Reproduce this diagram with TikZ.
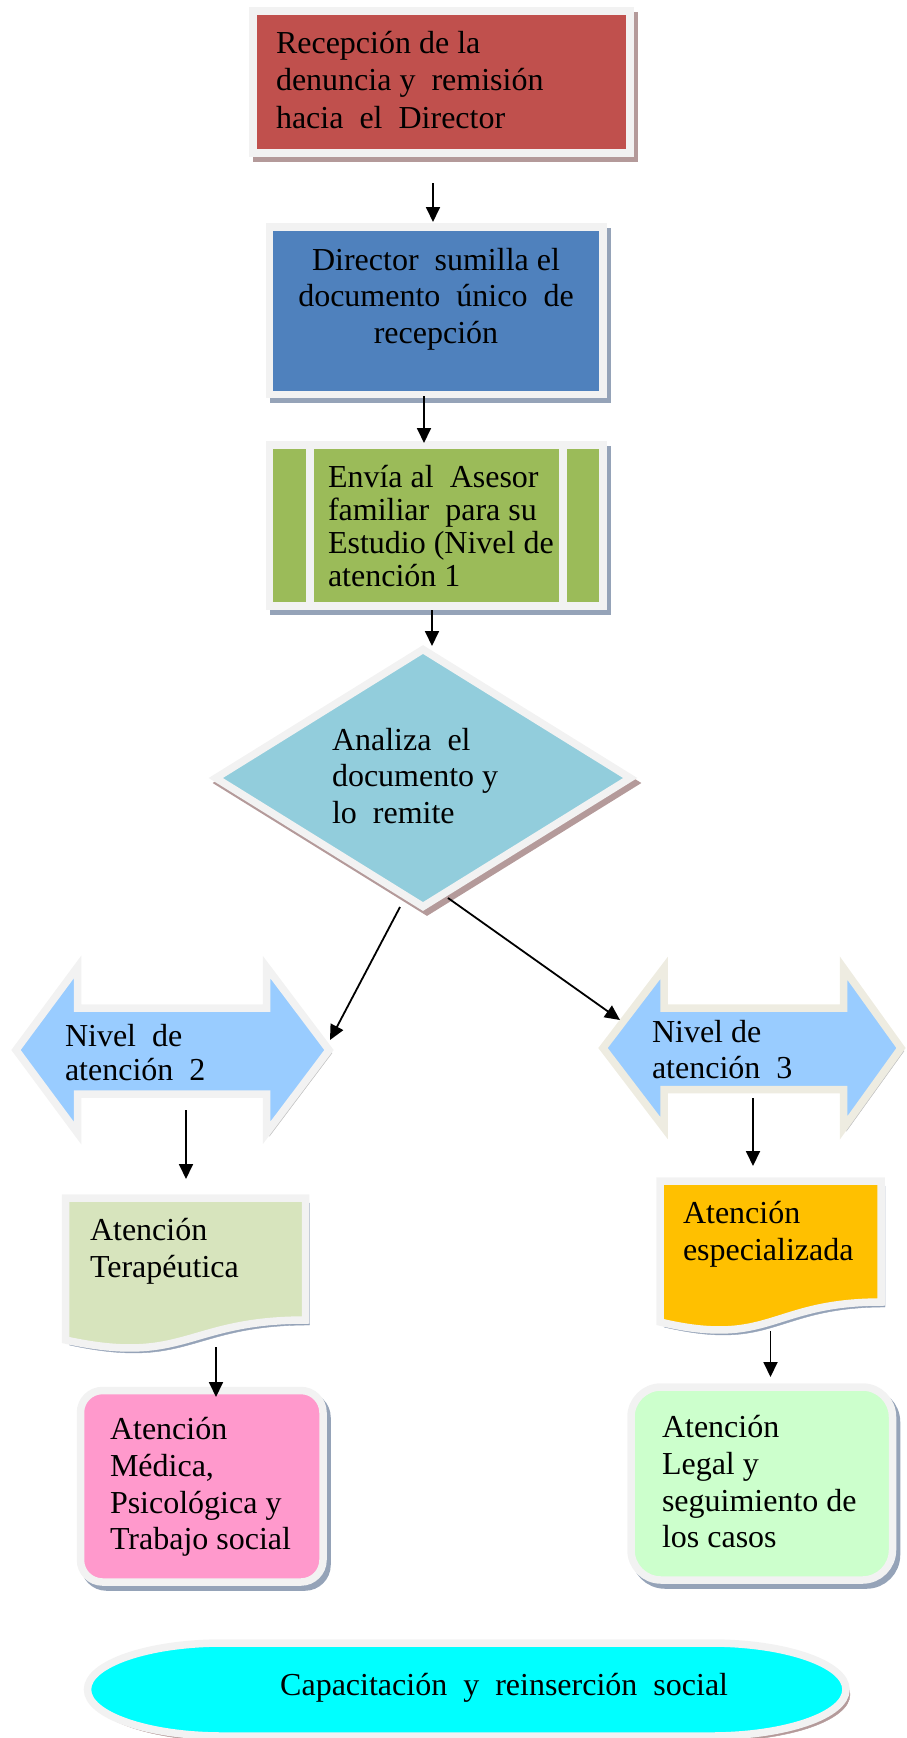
\documentclass[tikz,border=0pt]{standalone}
\usepackage{fontspec}
\setmainfont{Liberation Serif}
\usetikzlibrary{arrows.meta,shapes.geometric}

\definecolor{cRed}{HTML}{C0504D}
\definecolor{cBlue}{HTML}{4F81BD}
\definecolor{cGreen}{HTML}{9BBB59}
\definecolor{cDia}{HTML}{92CDDC}
\definecolor{cArr}{HTML}{99CCFF}
\definecolor{cDocL}{HTML}{D7E4BD}
\definecolor{cDocR}{HTML}{FFC000}
\definecolor{cPink}{HTML}{FF99CC}
\definecolor{cLGreen}{HTML}{CCFFCC}
\definecolor{cCyan}{HTML}{00FFFF}
\definecolor{cBorder}{HTML}{F2F2F2}
\definecolor{cBeige}{HTML}{EEECE1}
\definecolor{shRose}{HTML}{B49A9A}
\definecolor{shBlue}{HTML}{95A3B8}
\definecolor{shGray}{HTML}{C0C0C0}

\newcommand\myfs[1]{\fontsize{32}{#1}\selectfont}

\begin{document}
\begin{tikzpicture}[x=1pt,y=-1pt,
  shp/.style={draw=cBorder, line width=7.5pt, inner sep=0pt, outer sep=0pt},
  shR/.style={preaction={draw=shRose, fill=shRose, transform canvas={shift={(4pt,-5pt)}}}},
  shB/.style={preaction={draw=shBlue, fill=shBlue, transform canvas={shift={(4pt,-5pt)}}}},
  shG/.style={preaction={draw=shGray, fill=shGray, transform canvas={shift={(3pt,-3pt)}}}},
  inv/.style={draw=none, inner sep=0pt, outer sep=0pt},
  txt/.style={inner sep=0pt, outer sep=0pt, align=left, anchor=north west},
  arr/.style={draw=black, line width=1.8pt, -{Triangle[length=15pt,width=14pt]}},
]
\useasboundingbox (0,0) rectangle (907,1738);

% red box
\node[shp, shR, fill=cRed, minimum width=377pt, minimum height=142pt] (recep) at (441.5,82) {};
\node[txt, font=\myfs{37.5}] (recept) at (276,26.75) {\strut Recepción de la\\denuncia y\ \ remisión\\hacia\ \ el\ \ Director};

% blue box
\node[shp, shB, fill=cBlue, minimum width=333.5pt, minimum height=167.5pt] (dir) at (436.25,310.75) {};
\node[txt, anchor=north, align=center, font=\myfs{36.5}] (dirt) at (436,244.45) {\strut Director\ \ sumilla el\\documento\ \ único\ \ de\\recepción};

% green predefined process
\node[shp, shB, fill=cGreen, minimum width=333.5pt, minimum height=161pt] (env) at (436.25,525.5) {};
\draw[draw=cBorder, line width=8pt] ([xshift=40.5pt]env.north west) -- ([xshift=40.5pt]env.south west);
\draw[draw=cBorder, line width=8pt] ([xshift=-40pt]env.north east) -- ([xshift=-40pt]env.south east);
\node[txt, font=\myfs{33.3}] (envt) at (328,463.7) {\strut Envía al\ \ Asesor\\familiar\ \ para su\\Estudio (Nivel de\\atención 1};

% diamond
\node[shp, shR, fill=cDia, shape=diamond, minimum width=414.5pt, minimum height=257pt] (dia) at (423,778) {};
\node[txt, font=\myfs{36.5}] (diat) at (332,724.45) {\strut Analiza\ \ el\\documento y\\lo\ \ remite};

% double arrow left
\node[inv, minimum width=313pt, minimum height=166pt] (n2) at (172.5,1050) {};
\draw[shp, shG, fill=cArr] (n2.west) -- ++(61.5,-83) -- ++(0,41) -- ++(189,0) -- ++(0,-41) -- (n2.east) -- ++(-62.5,83) -- ++(0,-39) -- ++(-189,0) -- ++(0,39) -- cycle;
\node[txt, font=\myfs{34}] (n2t) at (65,1022.2) {\strut Nivel\ \ de\\atención\ \ 2};

% double arrow right
\node[inv, minimum width=298pt, minimum height=160pt] (n3) at (752,1048) {};
\draw[shp, draw=cBeige, shG, fill=cArr] (n3.west) -- ++(61,-80) -- ++(0,40) -- ++(179.5,0) -- ++(0,-40) -- (n3.east) -- ++(-57.5,80) -- ++(0,-38.5) -- ++(-179.5,0) -- ++(0,38.5) -- cycle;
\node[txt, font=\myfs{36}] (n3t) at (652,1016.8) {\strut Nivel de\\atención\ \ 3};

% documents
\node[inv, minimum width=240pt, minimum height=152pt] (ldoc) at (185.5,1274) {};
\draw[shp, shB, fill=cDocL] (65.5,1198) -- (305.5,1198) -- (305.5,1320) .. controls (185.5,1320) and (185.5,1366) .. (65.5,1340) -- cycle;
\node[txt, font=\myfs{37}] (ldoct) at (90,1214.1) {\strut Atención\\Terapéutica};

\node[inv, minimum width=221pt, minimum height=150pt] (rdoc) at (770.5,1256) {};
\draw[shp, shB, fill=cDocR] (660,1181) -- (881,1181) -- (881,1302) .. controls (770.5,1302) and (770.5,1348) .. (660,1322) -- cycle;
\node[txt, font=\myfs{37}] (rdoct) at (683,1197.1) {\strut Atención\\especializada};

% rounded boxes
\node[shp, shB, fill=cPink, rounded corners=22pt, minimum width=242.5pt, minimum height=191.5pt] (med) at (201.75,1486.25) {};
\node[txt, font=\myfs{36.67}] (medt) at (110,1414.3) {\strut Atención\\Médica,\\Psicológica y\\Trabajo social};

\node[shp, shB, fill=cLGreen, rounded corners=30pt, minimum width=261.5pt, minimum height=193pt] (leg) at (761.75,1483.5) {};
\node[txt, font=\myfs{36.67}] (legt) at (662,1412.3) {\strut Atención\\Legal y\\seguimiento de\\los casos};

% oval
\node[inv, minimum width=758.5pt, minimum height=93pt] (cap) at (466.75,1689.5) {};
\draw[shp, shR, fill=cCyan] (222.5,1643) -- (711,1643) arc[start angle=-90, end angle=90, x radius=135, y radius=46.5] -- (222.5,1736) arc[start angle=90, end angle=270, x radius=135, y radius=46.5] -- cycle;
\node[inner sep=0pt, anchor=base west, font=\myfs{37}] (capt) at (280,1695) {Capacitación\ \ y\ \ reinserción\ \ social};

% connectors
\draw[arr] ([shift={(-8.5,30)}]recep.south) -- ([shift={(-3.25,-5)}]dir.north);
\draw[arr] ([shift={(-12.25,1.5)}]dir.south) -- ([shift={(-12.25,-2)}]env.north);
\draw[arr] ([shift={(-4.25,4)}]env.south) -- ([shift={(9,-3.5)}]dia.north);
\draw[arr] ([shift={(-23,0.5)}]dia.south) -- ([shift={(1,-10)}]n2.east);
\draw[arr] ([shift={(25,-8.5)}]dia.south) -- ([shift={(17,-28)}]n3.west);
\draw[arr] ([shift={(13.5,60)}]n2.center) -- ([shift={(0.5,-19)}]ldoc.north);
\draw[arr] ([shift={(1,50)}]n3.center) -- ([shift={(-17.5,-15)}]rdoc.north);
\draw[arr] ([shift={(30.5,-3)}]ldoc.south) -- ([shift={(14.25,6.5)}]med.north);
\draw[arr] (rdoc.south) -- ([shift={(8.75,-10)}]leg.north);
\end{tikzpicture}
\end{document}
